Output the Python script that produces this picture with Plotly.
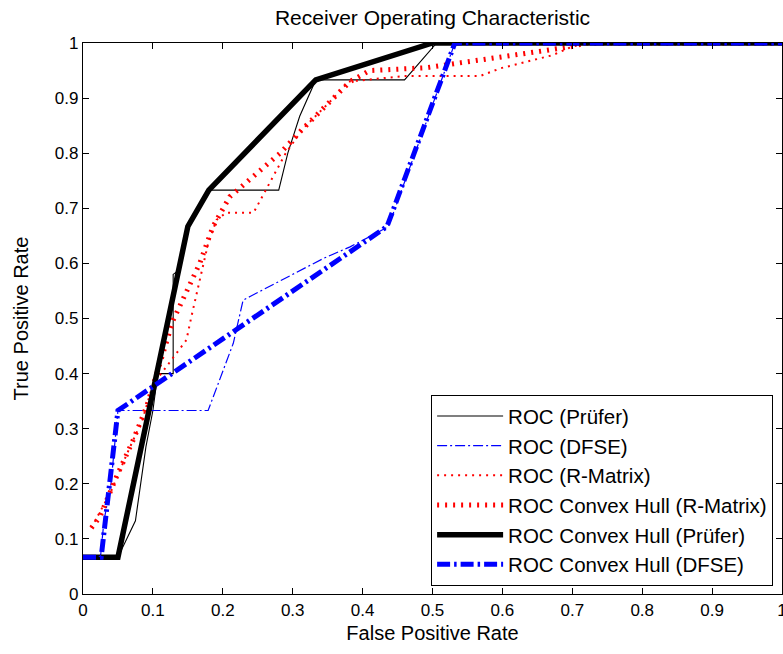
import plotly.graph_objects as go

# ---------------- data ----------------
prufer_fpr = [0.0, 0.05, 0.075, 0.083, 0.09, 0.1, 0.107, 0.129, 0.129, 0.1365, 0.15, 0.18, 0.28, 0.293, 0.31, 0.333, 0.46, 0.506, 1.0]
prufer_tpr = [0.0667, 0.0667, 0.133, 0.2, 0.267, 0.333, 0.4, 0.4, 0.58, 0.587, 0.667, 0.733, 0.733, 0.8, 0.867, 0.933, 0.933, 1.0, 1.0]

dfse_fpr = [0.0, 0.025, 0.03, 0.04, 0.045, 0.05, 0.179, 0.215, 0.229, 0.239, 0.344, 0.382, 0.42, 0.437, 0.487, 0.515, 0.532, 1.0]
dfse_tpr = [0.0667, 0.0667, 0.133, 0.2, 0.267, 0.333, 0.333, 0.455, 0.533, 0.54, 0.609, 0.63, 0.655, 0.667, 0.842, 0.939, 1.0, 1.0]

rmat_fpr = [0.012, 0.04, 0.062, 0.085, 0.1, 0.13, 0.148, 0.155, 0.163, 0.17, 0.179, 0.191, 0.205, 0.244, 0.256, 0.27, 0.29, 0.315, 0.353, 0.38, 0.46, 0.568, 0.597, 0.644, 0.672, 0.699, 0.72, 1.0]
rmat_tpr = [0.12, 0.186, 0.252, 0.316, 0.38, 0.43, 0.461, 0.503, 0.546, 0.588, 0.636, 0.679, 0.692, 0.692, 0.72, 0.755, 0.8, 0.845, 0.893, 0.93, 0.94, 0.94, 0.954, 0.969, 0.978, 0.993, 1.0, 1.0]

rmat_hull_fpr = [0.012, 0.024, 0.048, 0.072, 0.091, 0.129, 0.167, 0.186, 0.21, 0.244, 0.282, 0.315, 0.353, 0.382, 0.41, 0.49, 0.6, 0.697, 0.72, 1.0]
rmat_hull_tpr = [0.12, 0.14, 0.213, 0.28, 0.34, 0.497, 0.6, 0.667, 0.721, 0.757, 0.8, 0.845, 0.893, 0.93, 0.95, 0.955, 0.975, 0.993, 1.0, 1.0]

prufer_hull_fpr = [0.0, 0.05, 0.15, 0.18, 0.333, 0.5, 1.0]
prufer_hull_tpr = [0.0667, 0.0667, 0.667, 0.733, 0.933, 1.0, 1.0]

dfse_hull_fpr = [0.0, 0.026, 0.05, 0.435, 0.532, 1.0]
dfse_hull_tpr = [0.0667, 0.0667, 0.333, 0.667, 1.0, 1.0]

names = ["ROC (Prüfer)", "ROC (DFSE)", "ROC (R-Matrix)", "ROC Convex Hull (R-Matrix)",
         "ROC Convex Hull (Prüfer)", "ROC Convex Hull (DFSE)"]
ticks = [0, 0.1, 0.2, 0.3, 0.4, 0.5, 0.6, 0.7, 0.8, 0.9, 1]
tick_text = ["0", "0.1", "0.2", "0.3", "0.4", "0.5", "0.6", "0.7", "0.8", "0.9", "1"]

FONT = "Liberation Sans, Arial, sans-serif"

fig = go.Figure()
fig.add_trace(go.Scatter(x=prufer_fpr, y=prufer_tpr, mode="lines", name=names[0],
                         line=dict(color="black", width=1.1)))
fig.add_trace(go.Scatter(x=dfse_fpr, y=dfse_tpr, mode="lines", name=names[1],
                         line=dict(color="#0000ff", width=1.2, dash="10px,3px,2px,3px")))
fig.add_trace(go.Scatter(x=rmat_fpr, y=rmat_tpr, mode="lines", name=names[2],
                         line=dict(color="#ff0000", width=2, dash="2px,5px")))
fig.add_trace(go.Scatter(x=rmat_hull_fpr, y=rmat_hull_tpr, mode="lines", name=names[3],
                         line=dict(color="#ff0000", width=5, dash="2px,6px")))
fig.add_trace(go.Scatter(x=prufer_hull_fpr, y=prufer_hull_tpr, mode="lines", name=names[4],
                         line=dict(color="black", width=5.5)))
fig.add_trace(go.Scatter(x=dfse_hull_fpr, y=dfse_hull_tpr, mode="lines", name=names[5],
                         line=dict(color="#0000ff", width=5, dash="13px,4px,2.5px,4px")))

axis_common = dict(
    range=[0, 1], tickvals=ticks, ticktext=tick_text,
    showgrid=False, zeroline=False, automargin=False,
    showline=True, linecolor="black", linewidth=1.2, mirror="allticks",
    ticks="inside", ticklen=6, tickwidth=1.2, tickcolor="black",
    ticklabeloverflow="allow",
    tickfont=dict(family=FONT, size=17, color="black"),
)

fig.update_layout(
    width=783, height=654,
    margin=dict(l=83, r=1, t=43, b=60),
    paper_bgcolor="white", plot_bgcolor="white",
    font=dict(family=FONT, color="black"),
    title=dict(text="Receiver Operating Characteristic", x=0.5, xref="paper",
               y=1 - 18 / 654, yref="container", yanchor="middle", xanchor="center",
               font=dict(family=FONT, size=21, color="black")),
    xaxis=dict(axis_common, title=dict(text="False Positive Rate", standoff=7,
                                       font=dict(family=FONT, size=20, color="black"))),
    yaxis=dict(axis_common, title=dict(text="True Positive Rate", standoff=20,
                                       font=dict(family=FONT, size=20, color="black"))),
    showlegend=True,
    legend=dict(x=0.987, y=0.0145, xanchor="right", yanchor="bottom",
                bgcolor="white", bordercolor="black", borderwidth=1.2,
                font=dict(family=FONT, size=20.5, color="black"),
                itemwidth=66, tracegroupgap=0),
)

fig.write_html("out.html", config={"displayModeBar": False},
               post_script="document.body.style.margin='0';document.body.style.overflow='hidden';")
